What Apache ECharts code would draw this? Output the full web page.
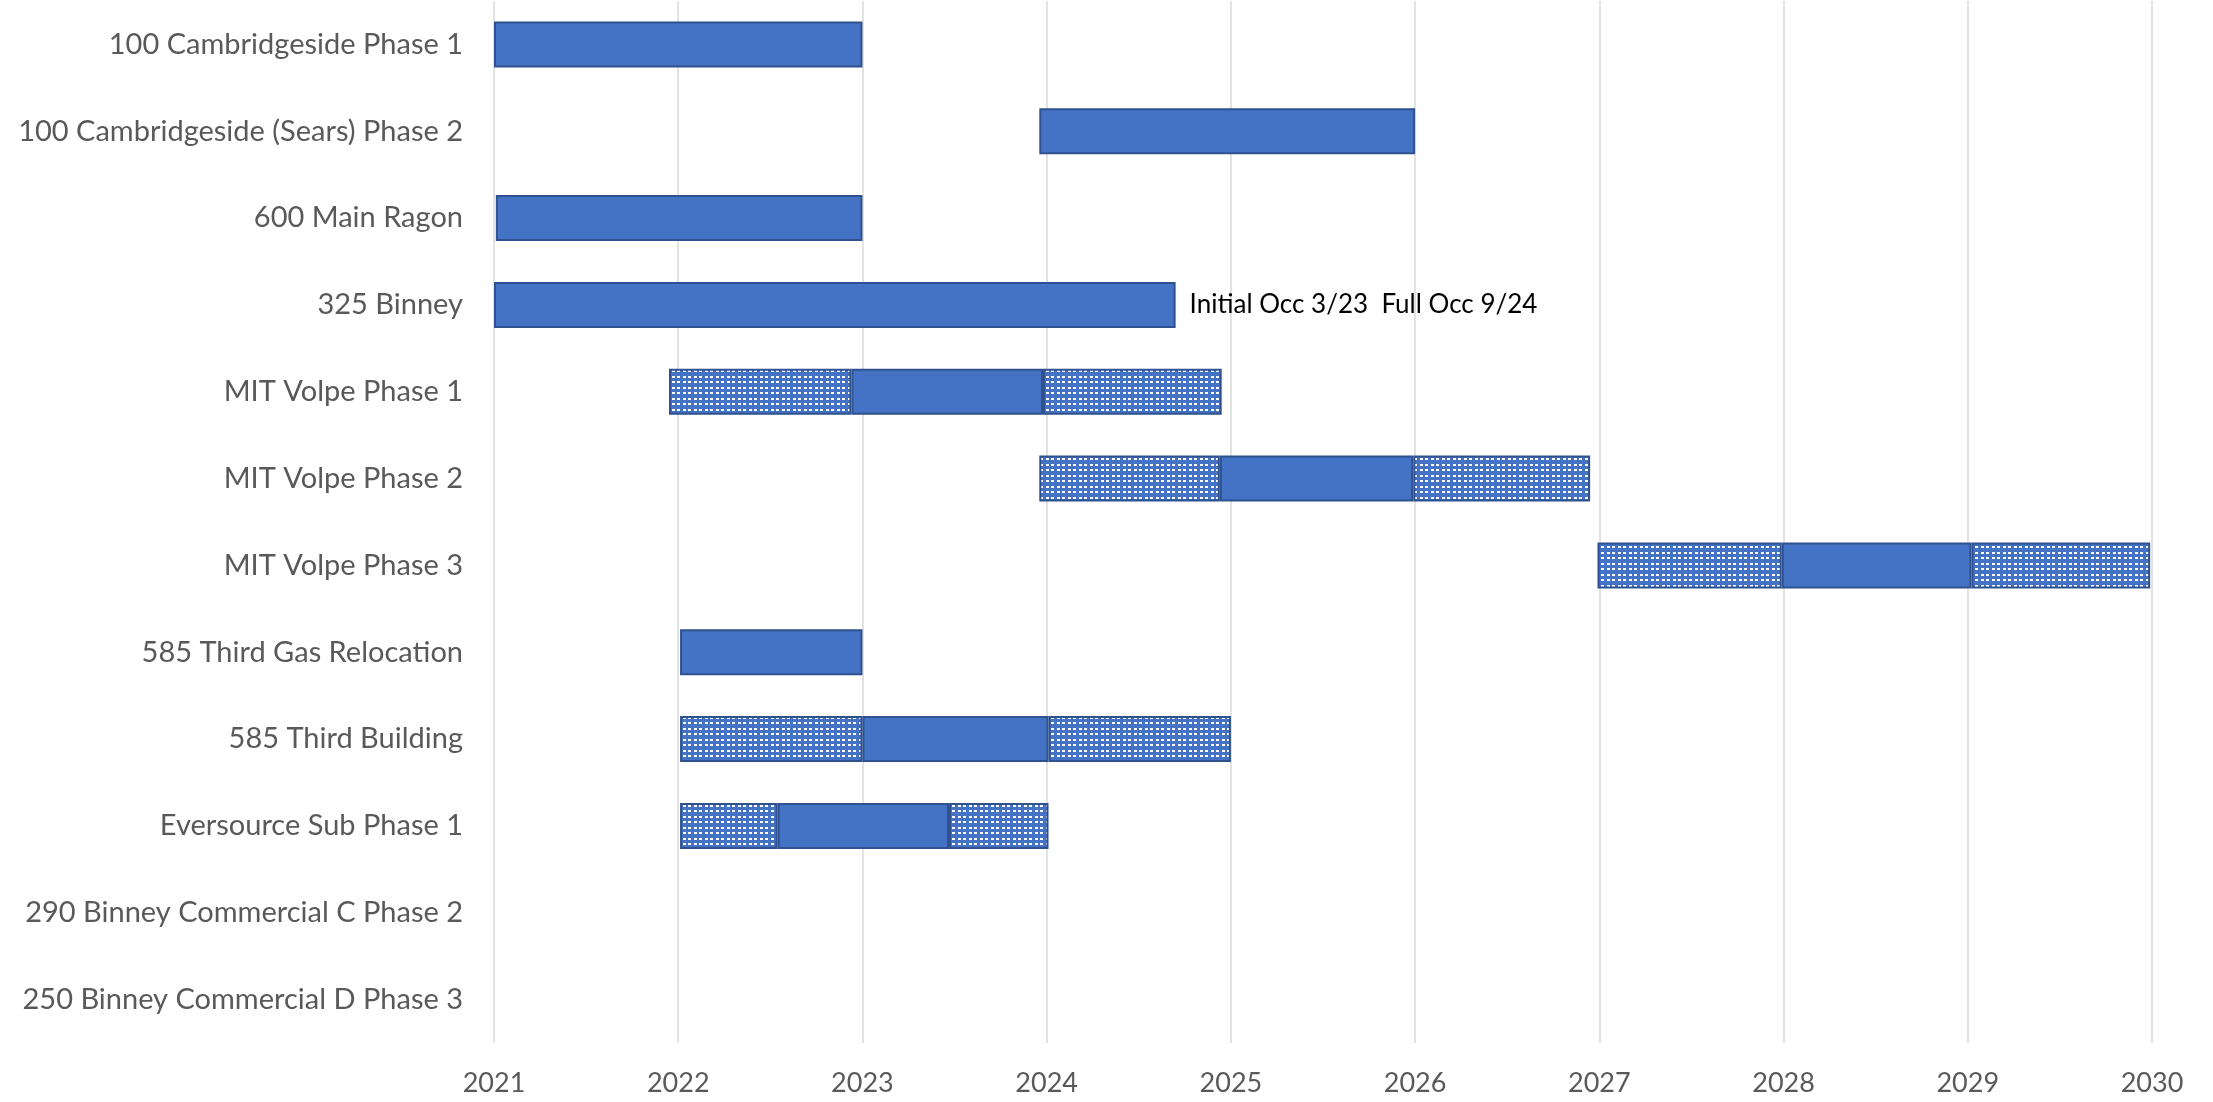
<!DOCTYPE html>
<html>
<head>
<meta charset="utf-8">
<script src="https://cdn.jsdelivr.net/npm/echarts@6/dist/echarts.min.js"></script>
<style>
html,body{margin:0;padding:0;background:#fff;}
#chart{width:2213px;height:1102px;}
</style>
</head>
<body>
<div id="chart"></div>
<script>
// ---- Data (years as decimal) ----
const categories = [
  '100 Cambridgeside Phase 1',
  '100 Cambridgeside (Sears) Phase 2',
  '600 Main Ragon',
  '325 Binney',
  'MIT Volpe Phase 1',
  'MIT Volpe Phase 2',
  'MIT Volpe Phase 3',
  '585 Third Gas Relocation',
  '585 Third Building',
  'Eversource Sub Phase 1',
  '290 Binney Commercial C Phase 2',
  '250 Binney Commercial D Phase 3'
];
// start of first (dotted) segment
const projectStart = [2021.00, 2023.96, 2021.01, 2021.00, 2021.95, 2023.96, 2026.99, 2022.01, 2022.01, 2022.01, null, null];
// start of solid segment
const solidStart   = [2021.00, 2023.96, 2021.01, 2021.00, 2022.94, 2024.94, 2027.99, 2022.01, 2023.00, 2022.54, null, null];
// end of solid segment
const solidEnd     = [2023.00, 2026.00, 2023.00, 2024.70, 2023.98, 2025.99, 2029.02, 2023.00, 2024.01, 2023.47, null, null];
// end of last (dotted) segment
const projectEnd   = [2023.00, 2026.00, 2023.00, 2024.70, 2024.95, 2026.95, 2029.99, 2023.00, 2025.00, 2024.01, null, null];
const annotationIndex = 3;
const annotationText = 'Initial Occ 3/23  Full Occ 9/24';
const axisMin = 2021, axisMax = 2030, axisStep = 1;

// ---- derived segment lengths ----
function seg(a, b) {
  return a.map((v, i) => {
    if (v == null || b[i] == null) return null;
    const d = +(b[i] - v).toFixed(4);
    return d > 0 ? d : null;
  });
}
const baseVals = projectStart.slice();
const preVals = seg(projectStart, solidStart);
const mainVals = seg(solidStart, solidEnd);
const postVals = seg(solidEnd, projectEnd);

// ---- dotted pattern ----
const blue = '#4472C4';
const edge = '#2F528F';
const pc = document.createElement('canvas');
pc.width = 11; pc.height = 11;
const pctx = pc.getContext('2d');
pctx.fillStyle = blue;
pctx.fillRect(0, 0, 11, 11);
pctx.fillStyle = '#ffffff';
[[1,2],[6,2],[1,7],[6,7]].forEach(p => pctx.fillRect(p[0], p[1], 3, 2));
const dotted = { image: pc, repeat: 'repeat' };

const FONT = 'Lato';
const barW = 46;

const chart = echarts.init(document.getElementById('chart'), null, { renderer: 'canvas' });
const mainData = mainVals.map((v, i) => {
  if (i === annotationIndex) {
    return {
      value: v,
      label: {
        show: true, position: 'right', distance: 14,
        formatter: annotationText, color: '#000', fontFamily: FONT, fontSize: 26
      }
    };
  }
  return v;
});

const segStyle = (c) => ({ color: c, borderColor: edge, borderWidth: 2 });

chart.setOption({
  animation: false,
  backgroundColor: '#fff',
  grid: { left: 494, right: 61, top: 1, bottom: 59, containLabel: false },
  xAxis: {
    type: 'value', min: axisMin, max: axisMax, interval: axisStep,
    axisLine: { show: false }, axisTick: { show: false },
    splitLine: { show: true, lineStyle: { color: '#d9d9d9', width: 1.5 } },
    axisLabel: { color: '#595959', fontFamily: FONT, fontSize: 27, margin: 27, formatter: v => String(v) }
  },
  yAxis: {
    type: 'category', data: categories, inverse: true,
    axisLine: { show: false }, axisTick: { show: false }, splitLine: { show: false },
    axisLabel: { color: '#595959', fontFamily: FONT, fontSize: 29, margin: 31 }
  },
  series: [
    { name: 'base', type: 'bar', stack: 'g', data: baseVals, barWidth: barW,
      itemStyle: { color: 'rgba(0,0,0,0)' }, silent: true },
    { name: 'pre', type: 'bar', stack: 'g', data: preVals, barWidth: barW,
      itemStyle: segStyle(dotted) },
    { name: 'main', type: 'bar', stack: 'g', data: mainData, barWidth: barW,
      itemStyle: segStyle(blue) },
    { name: 'post', type: 'bar', stack: 'g', data: postVals, barWidth: barW,
      itemStyle: segStyle(dotted) }
  ]
});
</script>
</body>
</html>
